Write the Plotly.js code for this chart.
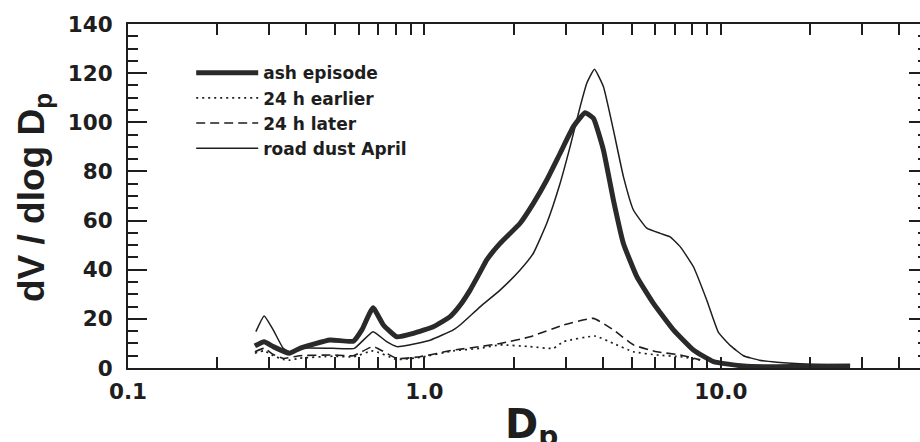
<!DOCTYPE html>
<html>
<head>
<meta charset="utf-8">
<script src="https://cdn.plot.ly/plotly-3.0.1.min.js"></script>
<style>
  html, body { margin: 0; padding: 0; background: #fff; overflow: hidden; }
  #wrap { width: 920px; height: 442px; overflow: hidden; position: relative; }
  #chart { width: 932px; height: 442px; }
  #settle { position: absolute; right: 0; bottom: 0; width: 1px; height: 1px; background: #fff; }
</style>
</head>
<body>
<div id="wrap"><div id="chart"></div><div id="settle"></div></div>
<script>
// Volume size distributions, dV/dlog Dp against particle diameter Dp (µm)
const ashX = [0.268, 0.288, 0.309, 0.35, 0.38, 0.48, 0.576, 0.615, 0.671, 0.727, 0.807, 0.918, 1.072, 1.221, 1.319, 1.426, 1.541, 1.623, 1.80, 2.103, 2.331, 2.587, 2.87, 3.181, 3.484, 3.717, 4.018, 4.341, 4.692, 5.207, 5.924, 6.92, 8.083, 9.443, 11.92, 15.45, 20.0, 27.3];
const ashY = [9.0, 10.7, 8.7, 6.0, 8.0, 11.4, 10.9, 15.5, 24.5, 17.5, 12.7, 14.1, 16.8, 20.9, 25.5, 31.7, 39.0, 44.0, 50.7, 58.9, 67.0, 76.5, 87.4, 98.2, 103.9, 101.6, 88.7, 68.4, 50.7, 37.2, 26.3, 15.5, 7.3, 2.6, 0.8, 0.5, 0.7, 0.8];

const earlierX = [0.268, 0.288, 0.309, 0.334, 0.352, 0.38, 0.49, 0.576, 0.671, 0.807, 0.967, 1.252, 1.541, 1.80, 2.273, 2.72, 2.945, 3.766, 4.341, 5.072, 6.082, 7.292, 8.516];
const earlierY = [6.0, 7.0, 5.0, 3.5, 3.2, 4.0, 4.8, 4.5, 7.0, 3.5, 4.3, 7.0, 8.0, 9.4, 8.7, 8.0, 10.7, 13.0, 10.0, 6.6, 5.3, 4.6, 3.3];

const laterX = [0.268, 0.288, 0.309, 0.334, 0.38, 0.49, 0.576, 0.671, 0.807, 0.967, 1.252, 1.541, 1.80, 2.273, 2.945, 3.717, 4.341, 5.072, 6.082, 7.292, 8.516];
const laterY = [6.6, 8.0, 5.5, 3.9, 5.0, 5.3, 5.0, 8.7, 3.9, 4.6, 7.3, 8.7, 10.0, 12.7, 17.5, 20.2, 15.5, 9.4, 6.6, 5.3, 3.3];

const roadX = [0.27, 0.288, 0.309, 0.334, 0.352, 0.38, 0.49, 0.58, 0.671, 0.746, 0.807, 0.94, 1.05, 1.252, 1.319, 1.541, 1.80, 2.103, 2.331, 2.587, 2.87, 3.101, 3.352, 3.53, 3.746, 4.018, 4.341, 4.692, 5.072, 5.628, 6.24, 6.745, 7.292, 8.083, 8.974, 9.817, 10.8, 11.92, 13.5, 15.45, 20.0, 27.3];
const roadY = [14.8, 21.2, 15.5, 8.0, 6.6, 8.0, 8.0, 8.0, 14.8, 10.7, 8.7, 10.0, 11.4, 15.5, 17.5, 24.9, 31.7, 39.9, 46.7, 58.9, 75.2, 90.1, 106.3, 115.9, 121.6, 114.5, 96.9, 77.9, 64.3, 56.9, 54.8, 53.4, 49.4, 41.2, 27.5, 14.5, 9.0, 5.0, 3.2, 2.3, 1.5, 1.2];

const seriesNames = ['ash episode', '24 h earlier', '24 h later', 'road dust April'];

// log-axis ticks: every 1..9 multiple, labelled only at the decades
const xTickVals = [0.1, 0.2, 0.3, 0.4, 0.5, 0.6, 0.7, 0.8, 0.9, 1, 2, 3, 4, 5, 6, 7, 8, 9, 10, 20, 30, 40];
const xTickText = ['0.1', '', '', '', '', '', '', '', '', '1.0', '', '', '', '', '', '', '', '', '10.0', '', '', ''];

const xTitle = 'D<sub>p</sub>';
const yTitle = 'dV / dlog D<sub>p</sub>';

const ink = '#1e1e1e';
const xRange = [-1, Math.log10(50)];
const yRange = [0, 140];
const wideBold = (size) => ({ family: 'DejaVu Sans, Verdana, sans-serif', size: size, color: ink, weight: 700 });
const narrowBold = (size) => ({ family: 'Liberation Sans, Arial, Helvetica, sans-serif', size: size, color: ink, weight: 700 });

const traces = [
  { x: roadX, y: roadY, name: seriesNames[3], legendrank: 4, mode: 'lines',
    line: { color: ink, width: 1.5, shape: 'spline', smoothing: 0.4 } },
  { x: earlierX, y: earlierY, name: seriesNames[1], legendrank: 2, mode: 'lines',
    line: { color: ink, width: 1.7, dash: '2px,4px', shape: 'spline', smoothing: 0.4 } },
  { x: laterX, y: laterY, name: seriesNames[2], legendrank: 3, mode: 'lines',
    line: { color: ink, width: 1.6, dash: '9px,5px', shape: 'spline', smoothing: 0.4 } },
  { x: ashX, y: ashY, name: seriesNames[0], legendrank: 1, mode: 'lines',
    line: { color: '#2a2a2a', width: 5, shape: 'spline', smoothing: 0.4 } }
];

const layout = {
  width: 932,
  height: 442,
  margin: { l: 128, r: 4, t: 24, b: 74 },
  paper_bgcolor: '#ffffff',
  plot_bgcolor: '#ffffff',
  showlegend: true,
  legend: {
    x: 0.079, y: 0.909, xanchor: 'left', yanchor: 'top',
    font: wideBold(17), itemwidth: 62
  },
  xaxis: {
    type: 'log', range: xRange,
    tickmode: 'array', tickvals: xTickVals, ticktext: xTickText,
    ticks: 'inside', ticklen: 11, tickwidth: 2, tickcolor: ink,
    showline: true, linewidth: 2, linecolor: ink, mirror: 'ticks',
    showgrid: false, zeroline: false,
    tickfont: wideBold(21.5), ticklabelstandoff: 3
  },
  yaxis: {
    range: yRange, tickmode: 'linear', tick0: 0, dtick: 20,
    ticks: 'inside', ticklen: 19, tickwidth: 2, tickcolor: ink,
    minor: { dtick: 5, ticks: 'inside', ticklen: 10, tickwidth: 2, tickcolor: ink },
    showline: true, linewidth: 2, linecolor: ink, mirror: 'ticks',
    showgrid: false, zeroline: false,
    tickfont: wideBold(21.5), ticklabelstandoff: 9
  },
  annotations: [
    { text: xTitle, xref: 'paper', yref: 'paper', x: 0.504, y: -0.172,
      xanchor: 'center', yanchor: 'middle', showarrow: false, font: wideBold(40) },
    { text: yTitle, xref: 'paper', yref: 'paper', x: -0.1175, y: 0.494, textangle: -90,
      xanchor: 'center', yanchor: 'middle', showarrow: false, font: narrowBold(37) }
  ]
};

Plotly.newPlot('chart', traces, layout, { displayModeBar: false, staticPlot: true }).then(function (gd) {
  // once drawing has settled, touch the tick marks' layout so they are painted
  setTimeout(function () {
    gd.querySelectorAll('path.ticks').forEach(function (el) {
      el.getBoundingClientRect();
      getComputedStyle(el).stroke;
    });
    document.getElementById('settle').style.width = '2px';
  }, 300);
});
</script>
</body>
</html>
